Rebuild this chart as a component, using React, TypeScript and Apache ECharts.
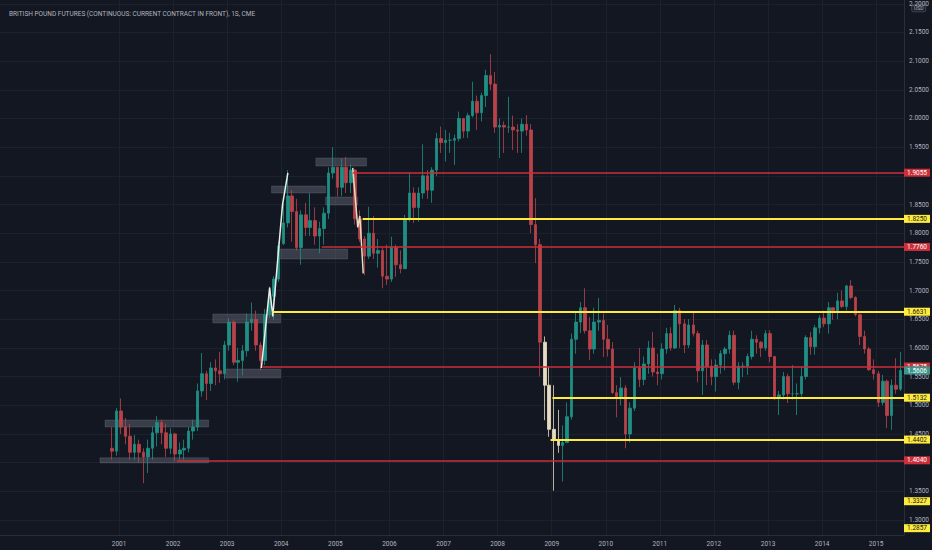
import React, { useEffect, useRef } from "react";
import * as echarts from "echarts";

// ---- data (monthly OHLC): [month, open, close, low, high]
const candles2000_2003: [string, number, number, number, number][] = [
  ["2000-11", 1.425, 1.420, 1.405, 1.462], ["2000-12", 1.420, 1.490, 1.412, 1.495],
  ["2001-01", 1.490, 1.462, 1.450, 1.512], ["2001-02", 1.462, 1.446, 1.432, 1.478],
  ["2001-03", 1.446, 1.418, 1.405, 1.468], ["2001-04", 1.418, 1.432, 1.405, 1.448],
  ["2001-05", 1.432, 1.418, 1.400, 1.440], ["2001-06", 1.418, 1.410, 1.364, 1.425],
  ["2001-07", 1.410, 1.425, 1.382, 1.440], ["2001-08", 1.425, 1.452, 1.405, 1.463],
  ["2001-09", 1.452, 1.470, 1.428, 1.481], ["2001-10", 1.470, 1.452, 1.432, 1.475],
  ["2001-11", 1.452, 1.425, 1.410, 1.468], ["2001-12", 1.425, 1.450, 1.415, 1.460],
  ["2002-01", 1.450, 1.415, 1.402, 1.452], ["2002-02", 1.415, 1.422, 1.405, 1.435],
  ["2002-03", 1.422, 1.425, 1.405, 1.440], ["2002-04", 1.425, 1.455, 1.418, 1.462],
  ["2002-05", 1.455, 1.462, 1.440, 1.475], ["2002-06", 1.462, 1.525, 1.455, 1.538],
  ["2002-07", 1.525, 1.555, 1.515, 1.591], ["2002-08", 1.555, 1.538, 1.509, 1.560],
  ["2002-09", 1.538, 1.565, 1.525, 1.575], ["2002-10", 1.565, 1.560, 1.535, 1.580],
  ["2002-11", 1.560, 1.555, 1.539, 1.593], ["2002-12", 1.555, 1.605, 1.545, 1.612],
  ["2003-01", 1.605, 1.645, 1.595, 1.652], ["2003-02", 1.645, 1.575, 1.570, 1.648],
  ["2003-03", 1.575, 1.578, 1.541, 1.600], ["2003-04", 1.578, 1.595, 1.552, 1.605],
  ["2003-05", 1.595, 1.645, 1.585, 1.660], ["2003-06", 1.645, 1.650, 1.630, 1.679],
  ["2003-07", 1.650, 1.605, 1.595, 1.665], ["2003-08", 1.605, 1.578, 1.561, 1.610],
  ["2003-09", 1.578, 1.658, 1.570, 1.668], ["2003-10", 1.658, 1.690, 1.652, 1.707],
  ["2003-11", 1.690, 1.720, 1.649, 1.725], ["2003-12", 1.720, 1.778, 1.715, 1.785],
];
const candles2004_2007: [string, number, number, number, number][] = [
  ["2004-01", 1.782, 1.818, 1.779, 1.852], ["2004-02", 1.818, 1.865, 1.810, 1.910],
  ["2004-03", 1.865, 1.838, 1.785, 1.875], ["2004-04", 1.838, 1.775, 1.770, 1.860],
  ["2004-05", 1.775, 1.832, 1.745, 1.840], ["2004-06", 1.832, 1.810, 1.795, 1.853],
  ["2004-07", 1.810, 1.822, 1.795, 1.870], ["2004-08", 1.822, 1.795, 1.780, 1.845],
  ["2004-09", 1.795, 1.808, 1.765, 1.820], ["2004-10", 1.808, 1.835, 1.780, 1.845],
  ["2004-11", 1.835, 1.905, 1.825, 1.915], ["2004-12", 1.905, 1.915, 1.895, 1.950],
  ["2005-01", 1.915, 1.880, 1.864, 1.915], ["2005-02", 1.880, 1.915, 1.865, 1.930],
  ["2005-03", 1.915, 1.888, 1.870, 1.933], ["2005-04", 1.888, 1.910, 1.870, 1.920],
  ["2005-05", 1.910, 1.825, 1.815, 1.912], ["2005-06", 1.825, 1.790, 1.785, 1.840],
  ["2005-07", 1.790, 1.760, 1.727, 1.795], ["2005-08", 1.760, 1.800, 1.755, 1.846],
  ["2005-09", 1.800, 1.765, 1.755, 1.830], ["2005-10", 1.765, 1.770, 1.740, 1.790],
  ["2005-11", 1.770, 1.725, 1.704, 1.775], ["2005-12", 1.725, 1.720, 1.710, 1.780],
  ["2006-01", 1.720, 1.775, 1.715, 1.794], ["2006-02", 1.775, 1.745, 1.724, 1.780],
  ["2006-03", 1.745, 1.738, 1.730, 1.770], ["2006-04", 1.738, 1.825, 1.745, 1.832],
  ["2006-05", 1.825, 1.870, 1.820, 1.905], ["2006-06", 1.870, 1.845, 1.818, 1.880],
  ["2006-07", 1.845, 1.870, 1.820, 1.880], ["2006-08", 1.870, 1.900, 1.860, 1.955],
  ["2006-09", 1.900, 1.875, 1.860, 1.910], ["2006-10", 1.875, 1.910, 1.853, 1.915],
  ["2006-11", 1.910, 1.965, 1.900, 1.975], ["2006-12", 1.965, 1.958, 1.940, 1.986],
  ["2007-01", 1.958, 1.962, 1.925, 1.980], ["2007-02", 1.962, 1.962, 1.940, 1.975],
  ["2007-03", 1.962, 1.965, 1.919, 1.972], ["2007-04", 1.965, 2.000, 1.960, 2.012],
  ["2007-05", 2.000, 1.978, 1.966, 2.000], ["2007-06", 1.978, 2.005, 1.966, 2.010],
  ["2007-07", 2.005, 2.030, 2.002, 2.064], ["2007-08", 2.030, 2.010, 1.980, 2.040],
  ["2007-09", 2.010, 2.040, 1.995, 2.045], ["2007-10", 2.040, 2.075, 2.020, 2.085],
  ["2007-11", 2.075, 2.060, 2.050, 2.112], ["2007-12", 2.060, 1.985, 1.975, 2.081],
];
const candles2008_2011: [string, number, number, number, number][] = [
  ["2008-01", 1.985, 1.988, 1.931, 2.000], ["2008-02", 1.988, 1.985, 1.940, 1.995],
  ["2008-03", 1.985, 1.985, 1.975, 2.038], ["2008-04", 1.985, 1.980, 1.945, 2.005],
  ["2008-05", 1.980, 1.978, 1.940, 1.990], ["2008-06", 1.978, 1.990, 1.940, 2.000],
  ["2008-07", 1.990, 1.980, 1.970, 2.006], ["2008-08", 1.980, 1.815, 1.800, 1.990],
  ["2008-09", 1.815, 1.780, 1.748, 1.861], ["2008-10", 1.780, 1.610, 1.550, 1.790],
  ["2008-11", 1.610, 1.535, 1.474, 1.620], ["2008-12", 1.535, 1.458, 1.445, 1.567],
  ["2009-01", 1.458, 1.440, 1.351, 1.535], ["2009-02", 1.440, 1.430, 1.417, 1.492],
  ["2009-03", 1.430, 1.435, 1.367, 1.465], ["2009-04", 1.435, 1.480, 1.434, 1.505],
  ["2009-05", 1.480, 1.615, 1.475, 1.625], ["2009-06", 1.615, 1.645, 1.590, 1.661],
  ["2009-07", 1.645, 1.670, 1.626, 1.680], ["2009-08", 1.670, 1.630, 1.625, 1.704],
  ["2009-09", 1.630, 1.598, 1.579, 1.654], ["2009-10", 1.598, 1.645, 1.590, 1.670],
  ["2009-11", 1.645, 1.648, 1.630, 1.687], ["2009-12", 1.648, 1.615, 1.584, 1.660],
  ["2010-01", 1.615, 1.598, 1.585, 1.640], ["2010-02", 1.598, 1.522, 1.520, 1.610],
  ["2010-03", 1.522, 1.515, 1.479, 1.535], ["2010-04", 1.515, 1.530, 1.500, 1.549],
  ["2010-05", 1.530, 1.450, 1.425, 1.535], ["2010-06", 1.450, 1.495, 1.435, 1.505],
  ["2010-07", 1.495, 1.565, 1.490, 1.575], ["2010-08", 1.565, 1.545, 1.532, 1.600],
  ["2010-09", 1.545, 1.572, 1.535, 1.585], ["2010-10", 1.572, 1.600, 1.555, 1.612],
  ["2010-11", 1.600, 1.558, 1.550, 1.628], ["2010-12", 1.558, 1.555, 1.535, 1.590],
  ["2011-01", 1.555, 1.598, 1.545, 1.608], ["2011-02", 1.598, 1.625, 1.590, 1.635],
  ["2011-03", 1.625, 1.600, 1.595, 1.636], ["2011-04", 1.600, 1.665, 1.598, 1.675],
  ["2011-05", 1.665, 1.642, 1.600, 1.670], ["2011-06", 1.642, 1.605, 1.591, 1.650],
  ["2011-07", 1.605, 1.640, 1.600, 1.650], ["2011-08", 1.640, 1.625, 1.620, 1.661],
  ["2011-09", 1.625, 1.560, 1.540, 1.630], ["2011-10", 1.560, 1.605, 1.518, 1.614],
  ["2011-11", 1.605, 1.568, 1.535, 1.614], ["2011-12", 1.568, 1.550, 1.535, 1.580],
];
const candles2012_2015: [string, number, number, number, number][] = [
  ["2012-01", 1.550, 1.570, 1.524, 1.580], ["2012-02", 1.570, 1.590, 1.555, 1.596],
  ["2012-03", 1.590, 1.598, 1.561, 1.602], ["2012-04", 1.598, 1.622, 1.590, 1.630],
  ["2012-05", 1.622, 1.540, 1.535, 1.630], ["2012-06", 1.540, 1.568, 1.528, 1.575],
  ["2012-07", 1.568, 1.568, 1.549, 1.575], ["2012-08", 1.568, 1.585, 1.553, 1.590],
  ["2012-09", 1.585, 1.615, 1.580, 1.630], ["2012-10", 1.615, 1.610, 1.590, 1.622],
  ["2012-11", 1.610, 1.600, 1.584, 1.612], ["2012-12", 1.600, 1.625, 1.595, 1.631],
  ["2013-01", 1.625, 1.585, 1.575, 1.631], ["2013-02", 1.585, 1.515, 1.509, 1.585],
  ["2013-03", 1.515, 1.518, 1.483, 1.525], ["2013-04", 1.518, 1.550, 1.510, 1.558],
  ["2013-05", 1.550, 1.520, 1.504, 1.555], ["2013-06", 1.520, 1.520, 1.510, 1.570],
  ["2013-07", 1.520, 1.520, 1.483, 1.538], ["2013-08", 1.520, 1.550, 1.515, 1.567],
  ["2013-09", 1.550, 1.618, 1.545, 1.622], ["2013-10", 1.618, 1.602, 1.588, 1.628],
  ["2013-11", 1.602, 1.635, 1.588, 1.640], ["2013-12", 1.635, 1.652, 1.625, 1.657],
  ["2014-01", 1.652, 1.642, 1.636, 1.665], ["2014-02", 1.642, 1.670, 1.625, 1.680],
  ["2014-03", 1.670, 1.665, 1.649, 1.670], ["2014-04", 1.665, 1.682, 1.650, 1.696],
  ["2014-05", 1.682, 1.672, 1.670, 1.700], ["2014-06", 1.672, 1.708, 1.665, 1.710],
  ["2014-07", 1.708, 1.688, 1.685, 1.718], ["2014-08", 1.688, 1.658, 1.655, 1.690],
  ["2014-09", 1.658, 1.620, 1.605, 1.660], ["2014-10", 1.620, 1.598, 1.590, 1.630],
  ["2014-11", 1.598, 1.562, 1.560, 1.602], ["2014-12", 1.562, 1.555, 1.545, 1.580],
  ["2015-01", 1.555, 1.505, 1.497, 1.560], ["2015-02", 1.505, 1.542, 1.500, 1.553],
  ["2015-03", 1.542, 1.482, 1.460, 1.545], ["2015-04", 1.482, 1.535, 1.457, 1.545],
  ["2015-05", 1.535, 1.528, 1.520, 1.582], ["2015-06", 1.528, 1.5606, 1.525, 1.593],
];
const highlightMonths = ["2008-11", "2008-12", "2009-01", "2009-02"];

// horizontal levels drawn on the chart
const redLevels = [1.9055, 1.776, 1.5675, 1.404];
const redStarts = ["2005-04-28", "2004-10-01", "2003-08-28", "2002-01-26"];
const yellowLevels = [1.825, 1.6631, 1.5132, 1.4402];
const yellowStarts = ["2005-07-04", "2003-11-04", "2009-01-06", "2008-12-24"];
const axisOnlyLevels = [1.3327, 1.2857];
const lastPrice = 1.5606;

// gray zones
const zoneStarts = ["2000-09-28", "2000-08-25", "2002-09-26", "2002-12-22", "2003-10-28", "2003-12-28", "2004-08-22", "2004-10-27"];
const zoneEnds = ["2002-08-29", "2002-08-29", "2003-12-28", "2003-12-28", "2004-10-27", "2005-03-25", "2005-07-30", "2005-05-31"];
const zoneTops = [1.4743, 1.4085, 1.6591, 1.5632, 1.8823, 1.7724, 1.9311, 1.8631];
const zoneBottoms = [1.4621, 1.3995, 1.6434, 1.5475, 1.8701, 1.7549, 1.9171, 1.8491];

// pale drawn paths
const rallyPath2003: [string, number][] = [
  ["2003-08-20", 1.565], ["2003-10-15", 1.705], ["2003-11-05", 1.655], ["2004-01-10", 1.85], ["2004-02-15", 1.905],
];
const dropPath2005: [string, number][] = [
  ["2005-04-28", 1.914], ["2005-06-01", 1.81], ["2005-06-15", 1.83], ["2005-07-08", 1.73],
];

// axes
const yTickValues = [1.3, 1.35, 1.4, 1.45, 1.5, 1.55, 1.6, 1.65, 1.7, 1.75, 1.8, 1.85, 1.9, 1.95, 2.0, 2.05, 2.1, 2.15, 2.2];
// tick labels visible on the price scale (1.9000 and 1.4000 sit under level tags)
const yTickLabels = [1.3, 1.35, 1.45, 1.5, 1.55, 1.6, 1.65, 1.7, 1.75, 1.8, 1.85, 1.95, 2.0, 2.05, 2.1, 2.15, 2.2];
const yearTicks = ["2001", "2002", "2003", "2004", "2005", "2006", "2007", "2008", "2009", "2010", "2011", "2012", "2013", "2014", "2015"];
const xMin = "1998-10-20";
const xMax = "2015-07-08";
const yMin = 1.2738;
const yMax = 2.2066;

const TITLE = "BRITISH POUND FUTURES (CONTINUOUS: CURRENT CONTRACT IN FRONT), 1S, CME";

const UP = "#1f8f84";
const DOWN = "#b8424a";
const CREAM = "#e6dcc0";
const RED = "#cc2f3a";
const YELLOW = "#ffeb3b";
const TEAL = "#3c968c";
const TXT = "#b2b5be";
const FONT = "Roboto";

const ts = (d: string) => Date.parse(d + "T00:00:00Z");

export default function App() {
  const ref = useRef<HTMLDivElement>(null);
  useEffect(() => {
    document.body.style.margin = "0";
    document.body.style.background = "#131722";
    if (!ref.current) return;
    const chart = echarts.init(ref.current, null, { renderer: "svg" });

    const all = [...candles2000_2003, ...candles2004_2007, ...candles2008_2011, ...candles2012_2015];
    const candleData = all.map(([m, o, c, l, h]) => {
      const item: any = { value: [ts(m + "-15"), o, c, l, h] };
      if (highlightMonths.includes(m)) {
        item.itemStyle = { color: CREAM, color0: CREAM, borderColor: CREAM, borderColor0: CREAM };
      }
      return item;
    });

    const lvlLabel = (v: number, bg: string, fg: string) => ({
      show: true,
      position: "end",
      distance: 0,
      formatter: v.toFixed(4),
      backgroundColor: bg,
      color: fg,
      fontSize: 6.5,
      fontFamily: FONT,
      lineHeight: 6.5,
      padding: [1, 3, 0.5, 3],
    });
    const hidden = { color: "rgba(0,0,0,0)", width: 0 };

    const lineData: any[] = [];
    redLevels.forEach((v, i) => {
      lineData.push([
        { coord: [ts(redStarts[i]), v], lineStyle: { color: RED, width: 1.6, type: "solid" }, label: lvlLabel(v, RED, "#ffffff") },
        { coord: [ts(xMax), v] },
      ]);
    });
    yellowLevels.forEach((v, i) => {
      lineData.push([
        { coord: [ts(yellowStarts[i]), v], lineStyle: { color: YELLOW, width: 1.8, type: "solid" }, label: lvlLabel(v, YELLOW, "#131722") },
        { coord: [ts(xMax), v] },
      ]);
    });
    axisOnlyLevels.forEach((v) => {
      lineData.push([
        { coord: [ts("2015-07-01"), v], lineStyle: hidden, label: lvlLabel(v, YELLOW, "#131722") },
        { coord: [ts(xMax), v] },
      ]);
    });
    lineData.push([
      { coord: [ts("2015-07-01"), lastPrice], lineStyle: hidden, label: lvlLabel(lastPrice, TEAL, "#ffffff") },
      { coord: [ts(xMax), lastPrice] },
    ]);

    const areaData = zoneStarts.map((s, i) => [
      { coord: [ts(s), zoneTops[i]] },
      { coord: [ts(zoneEnds[i]), zoneBottoms[i]] },
    ]);

    const yearValues = yearTicks.map((y) => ts(y + "-01-01"));

    chart.setOption({
      animation: false,
      backgroundColor: "#131722",
      title: {
        text: TITLE,
        left: 4,
        top: 5,
        textStyle: { color: TXT, fontSize: 6.5, fontWeight: "normal", fontFamily: FONT },
      },
      grid: { left: 0, right: 27, top: 0, bottom: 15, containLabel: false },
      xAxis: {
        type: "value",
        min: ts(xMin),
        max: ts(xMax),
        axisLine: { show: true, lineStyle: { color: "#2a2e39", width: 1 } },
        axisTick: { show: false, customValues: yearValues },
        axisLabel: {
          customValues: yearValues,
          formatter: (val: number) => String(new Date(val).getUTCFullYear()),
          color: TXT,
          fontSize: 6.5,
          fontFamily: FONT,
          margin: 5,
        },
        splitLine: { show: true, lineStyle: { color: "#1d212c", width: 1 } },
      },
      yAxis: {
        type: "value",
        position: "right",
        min: yMin,
        max: yMax,
        axisLine: { show: true, lineStyle: { color: "#2a2e39", width: 1 } },
        axisTick: { show: false, customValues: yTickValues },
        axisLabel: {
          customValues: yTickLabels,
          formatter: (v: number) => v.toFixed(4),
          color: TXT,
          fontSize: 6.5,
          lineHeight: 6,
          fontFamily: FONT,
          margin: 5,
        },
        splitLine: { show: true, lineStyle: { color: "#1d212c", width: 1 } },
      },
      graphic: [
        {
          type: "group",
          right: 6,
          top: 4,
          z: 100,
          children: [
            { type: "rect", shape: { x: 0, y: 0, width: 14, height: 7.5, r: 1.5 }, style: { fill: "#1e222d", stroke: "#5d606b", lineWidth: 0.6 } },
            { type: "text", x: 7, y: 3.9, style: { text: "USD", fill: TXT, fontSize: 5, fontFamily: FONT, align: "center", verticalAlign: "middle" } },
          ],
        },
      ],
      series: [
        {
          type: "candlestick",
          data: candleData,
          encode: { x: 0, y: [1, 2, 3, 4] },
          barWidth: 3,
          silent: true,
          itemStyle: { color: UP, color0: DOWN, borderColor: UP, borderColor0: DOWN, borderWidth: 0.8 },
        },
        {
          type: "line",
          data: rallyPath2003.map(([d, v]) => [ts(d), v]),
          symbol: "none",
          silent: true,
          lineStyle: { color: "#e9efe6", width: 1.5 },
        },
        {
          type: "line",
          data: dropPath2005.map(([d, v]) => [ts(d), v]),
          symbol: "none",
          silent: true,
          lineStyle: { color: CREAM, width: 1.5 },
        },
        {
          type: "line",
          data: [],
          silent: true,
          clip: false,
          z: 5,
          markArea: {
            silent: true,
            itemStyle: { color: "rgba(120,124,138,0.38)", borderColor: "rgba(150,154,166,0.35)", borderWidth: 0.6 },
            data: areaData,
          },
          markLine: {
            silent: true,
            symbol: ["none", "none"],
            animation: false,
            data: lineData,
          },
        },
      ],
    });
    return () => chart.dispose();
  }, []);
  return <div ref={ref} style={{ width: 932, height: 550 }} />;
}
